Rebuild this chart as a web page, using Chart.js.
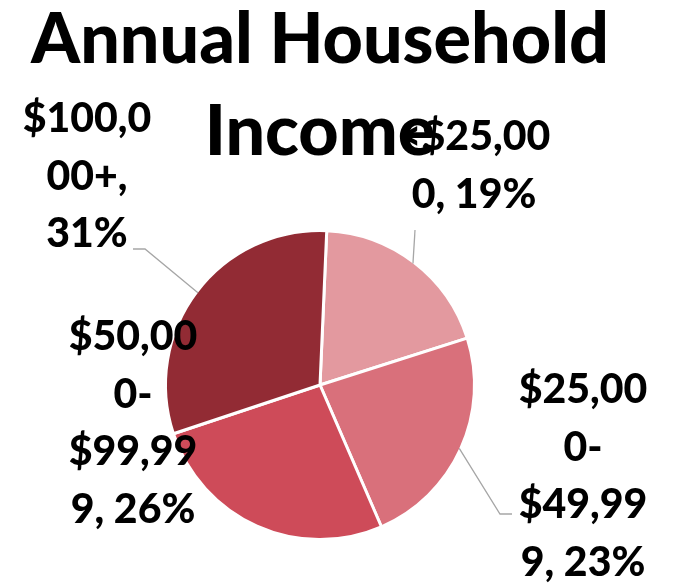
<!DOCTYPE html>
<html>
<head>
<meta charset="utf-8">
<script src="https://cdn.jsdelivr.net/npm/chart.js@4.4.1/dist/chart.umd.min.js"></script>
<style>
  html, body { margin: 0; padding: 0; background: #ffffff; }
  #wrap { width: 676px; height: 585px; }
</style>
</head>
<body>
<div id="wrap"><canvas id="c" width="676" height="585"></canvas></div>
<script>
// ---- data ----
const titleLines = ['Annual Household', 'Income'];
const categories = ['<$25,000', '$25,000-$49,999', '$50,000-$99,999', '$100,000+'];
const shares = [19.4, 23.4, 26.4, 30.8];   // slice sizes estimated from the angles
const sliceColors = ['#E3999F', '#D9707B', '#CE4B59', '#922B34'];

// ---- label layout (text placement relative to pie centre, px) ----
const labelLayout = [
  { dx: 154,  dy: -235, maxW: 160, leader: [[95, -155]] },
  { dx: 263,  dy: 18,   maxW: 140, leader: [[180, 129], [192, 129]] },
  { dx: -187, dy: -35,  maxW: 140, leader: [] },
  { dx: -233, dy: -253, maxW: 140, leader: [[-175, -136], [-187, -136]] }
];
const LABEL_FONT = '900 41px Lato';
const LABEL_LINE = 57.5;

function wrapLabel(ctx, text, maxW) {
  const pieces = [];
  text.split(' ').forEach((w, wi) => {
    w.split(/(?<=-)/).forEach((p, pi) => pieces.push({ t: p, space: wi > 0 && pi === 0 }));
  });
  const lines = [];
  let cur = '';
  const W = s => ctx.measureText(s).width;
  pieces.forEach(pc => {
    const cand = cur + (pc.space && cur ? ' ' : '') + pc.t;
    if (W(cand) <= maxW) { cur = cand; return; }
    if (cur) { lines.push(cur); cur = ''; }
    let t = pc.t;
    while (W(t) > maxW) {
      let n = t.length;
      while (n > 1 && W(t.slice(0, n)) > maxW) n--;
      lines.push(t.slice(0, n));
      t = t.slice(n);
    }
    cur = t;
  });
  if (cur) lines.push(cur);
  return lines;
}

const pieLabels = {
  id: 'pieLabels',
  afterDraw(chart) {
    const ctx = chart.ctx;
    const meta = chart.getDatasetMeta(0);
    const values = chart.data.datasets[0].data;
    ctx.save();
    meta.data.forEach((arc, i) => {
      const p = arc.getProps(['x', 'y', 'startAngle', 'endAngle', 'outerRadius'], true);
      const mid = (p.startAngle + p.endAngle) / 2;
      const r = p.outerRadius - 1.5;
      const lay = labelLayout[i];
      if (lay.leader.length) {
        ctx.beginPath();
        ctx.moveTo(p.x + Math.cos(mid) * r, p.y + Math.sin(mid) * r);
        lay.leader.forEach(q => ctx.lineTo(p.x + q[0], p.y + q[1]));
        ctx.strokeStyle = '#A6A6A6';
        ctx.lineWidth = 1.3;
        ctx.stroke();
      }
      ctx.font = LABEL_FONT;
      ctx.fillStyle = '#000000';
      ctx.textAlign = 'center';
      ctx.textBaseline = 'alphabetic';
      const text = categories[i] + ', ' + Math.round(values[i]) + '%';
      const lines = wrapLabel(ctx, text, lay.maxW);
      lines.forEach((t, k) => ctx.fillText(t, p.x + lay.dx, p.y + lay.dy + k * LABEL_LINE));
    });
    ctx.restore();
  }
};

function draw() {
  new Chart(document.getElementById('c'), {
    type: 'pie',
    data: {
      labels: categories,
      datasets: [{
        data: shares,
        backgroundColor: sliceColors,
        borderColor: '#ffffff',
        borderWidth: 3
      }]
    },
    options: {
      responsive: false,
      animation: false,
      rotation: 2.5,
      layout: { padding: { top: 0, left: 0, right: 36, bottom: 44 } },
      plugins: {
        legend: { display: false },
        tooltip: { enabled: false },
        title: {
          display: true,
          text: titleLines,
          color: '#000000',
          font: { family: 'Lato', size: 70, weight: '900', lineHeight: 92 / 70 },
          padding: { top: -6, bottom: 51 }
        }
      }
    },
    plugins: [pieLabels]
  });
}
if (document.fonts && document.fonts.load) {
  Promise.all([document.fonts.load('900 70px Lato'), document.fonts.load('900 41px Lato')]).then(draw, draw);
} else { draw(); }
</script>
</body>
</html>
